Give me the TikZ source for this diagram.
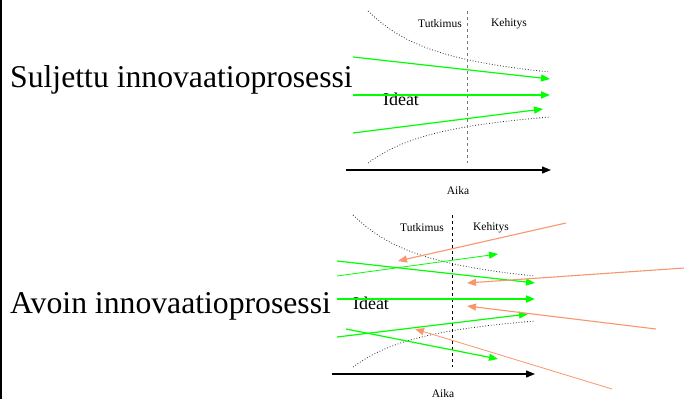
\documentclass[tikz,border=0pt]{standalone}
\usepackage{fontspec}
\setmainfont{Liberation Serif}
\usetikzlibrary{arrows.meta}
\definecolor{grn}{RGB}{0,255,0}
\definecolor{org}{RGB}{248,150,110}
\definecolor{dgray}{RGB}{120,120,120}
\tikzset{
  big/.style={font=\fontsize{31.7}{36}\selectfont, anchor=base west, inner sep=0pt},
  small/.style={font=\fontsize{11.5}{13}\selectfont, inner sep=0pt},
  mid/.style={font=\fontsize{18}{20}\selectfont, inner sep=0pt},
  garrow/.style={draw=grn, line width=1.2pt, -{Triangle[length=9pt,width=7pt]}},
  hgarrow/.style={garrow, line width=1.8pt, -{Triangle[length=9pt,width=7pt]}},
  oarrow/.style={draw=org, line width=1.1pt, -{Triangle[length=9pt,width=7pt]}},
  karrow/.style={draw=black, line width=1.2pt, -{Triangle[length=9pt,width=7pt]}},
  bound/.style={draw=black!85, line width=0.8pt, dotted},
}
\begin{document}
\begin{tikzpicture}[x=1pt,y=-1pt]
\useasboundingbox (0,0) rectangle (684,399);
\fill[white] (0,0) rectangle (684,399);
\draw[line width=2pt] (1,0) -- (1,399);

% ---------- closed ----------
\node[big] (t1) at (10,87) {Suljettu innovaatioprosessi};
\draw[bound] (368,11) .. controls (400,42) and (440,61) .. (550,72);
\draw[bound] (368,163) .. controls (400,140) and (440,126) .. (550,117);
\coordinate (d1a) at (467.5,11); \coordinate (d1b) at (467.5,163);
\draw[dgray, dashed, line width=1pt] (d1a) -- (d1b);
\node[small] (tu1) at (440,24) {Tutkimus};
\node[small] (ke1) at (509,24) {Kehitys};
\node[mid] (id1) at (401,99) {Ideat};
\coordinate (a1s) at (353,57); \coordinate (a1e) at (550,79);
\coordinate (a2s) at (353,95); \coordinate (a2e) at (550,95);
\coordinate (a3s) at (353,133); \coordinate (a3e) at (543,109);
\draw[garrow] (a1s) -- (a1e);
\draw[hgarrow] (a2s) -- (a2e);
\draw[garrow] (a3s) -- (a3e);
\coordinate (x1s) at (346,170); \coordinate (x1e) at (551,170);
\draw[karrow] (x1s) -- (x1e);
\node[small] (ai1) at (458,191) {Aika};

% ---------- open ----------
\node[big] (t2) at (10,313) {Avoin innovaatioprosessi};
\draw[bound] (353,215) .. controls (385,246) and (425,265) .. (535,276);
\draw[bound] (353,367) .. controls (385,344) and (425,330) .. (535,321);
\coordinate (d2a) at (452.5,215); \coordinate (d2b) at (452.5,367);
\draw[black, dashed, line width=1pt] (d2a) -- (d2b);
\node[small] (tu2) at (422,228) {Tutkimus};
\node[small] (ke2) at (491,228) {Kehitys};
\node[mid] (id2) at (371,303) {Ideat};
\coordinate (b1s) at (337,276); \coordinate (b1e) at (498,254);
\coordinate (b2s) at (337,261); \coordinate (b2e) at (535,283);
\coordinate (b3s) at (337,299); \coordinate (b3e) at (535,299);
\coordinate (b4s) at (337,337); \coordinate (b4e) at (528,314);
\coordinate (b5s) at (346,329); \coordinate (b5e) at (498,359);
\draw[garrow, line width=0.8pt] (b1s) -- (b1e);
\draw[garrow] (b2s) -- (b2e);
\draw[hgarrow] (b3s) -- (b3e);
\draw[garrow] (b4s) -- (b4e);
\draw[garrow] (b5s) -- (b5e);
\coordinate (o1s) at (566,223); \coordinate (o1e) at (398,261);
\coordinate (o2s) at (684,268); \coordinate (o2e) at (467,283);
\coordinate (o3s) at (656,329); \coordinate (o3e) at (467,306);
\coordinate (o4s) at (612,389); \coordinate (o4e) at (415,329);
\draw[oarrow] (o1s) -- (o1e);
\draw[oarrow] (o2s) -- (o2e);
\draw[oarrow] (o3s) -- (o3e);
\draw[oarrow, line width=0.8pt] (o4s) -- (o4e);
\coordinate (x2s) at (332,374); \coordinate (x2e) at (535,374);
\draw[karrow] (x2s) -- (x2e);
\node[small] (ai2) at (443,393.5) {Aika};
\end{tikzpicture}
\end{document}
